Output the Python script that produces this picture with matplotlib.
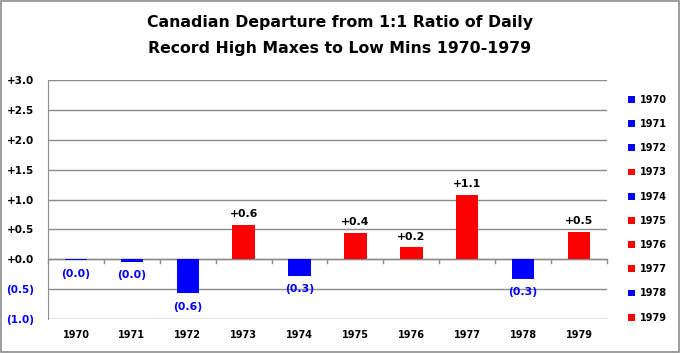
import matplotlib
matplotlib.use('Agg')
import matplotlib.pyplot as plt
from matplotlib.patches import Rectangle

years = ['1970', '1971', '1972', '1973', '1974', '1975', '1976', '1977', '1978', '1979']
values = [-0.02, -0.04, -0.57, 0.58, -0.28, 0.44, 0.2, 1.08, -0.33, 0.46]
labels = ['(0.0)', '(0.0)', '(0.6)', '+0.6', '(0.3)', '+0.4', '+0.2', '+1.1', '(0.3)', '+0.5']
yticks = [-1.0, -0.5, 0.0, 0.5, 1.0, 1.5, 2.0, 2.5, 3.0]
ytick_labels = ['(1.0)', '(0.5)', '+0.0', '+0.5', '+1.0', '+1.5', '+2.0', '+2.5', '+3.0']

plt.rcParams['font.family'] = 'DejaVu Sans'

fig = plt.figure(figsize=(6.8, 3.53), dpi=100)
ax = fig.add_axes([0.0706, 0.0963, 0.822, 0.677])

for i, (yr, v) in enumerate(zip(years, values)):
    color = '#ff0000' if v > 0 else '#0000ff'
    ax.bar(i, v, width=0.4, color=color, label=yr, zorder=3)
    if v > 0:
        ax.annotate(labels[i], (i, v), xytext=(0, 4), textcoords='offset points',
                    ha='center', va='bottom', fontsize=7.8, fontweight='bold', color='black')
    else:
        ax.annotate(labels[i], (i, v), xytext=(0, -6), textcoords='offset points',
                    ha='center', va='top', fontsize=7.8, fontweight='bold', color='#0000ff')

ax.set_xlim(-0.5, len(years) - 0.5)
ax.set_ylim(-1.0, 3.0)
ax.set_yticks(yticks)
ax.set_yticklabels(ytick_labels, fontsize=7.5, fontweight='bold')
for t, v in zip(ax.get_yticklabels(), yticks):
    t.set_color('#0000ff' if v < 0 else 'black')
ax.tick_params(axis='y', length=0, pad=10)
ax.set_xticks(range(len(years)))
ax.set_xticklabels(years, fontsize=7, fontweight='bold')
ax.tick_params(axis='x', length=0, pad=8)

ax.yaxis.grid(True, color='#8c8c8c', linewidth=1, zorder=0)
for s in ['top', 'right', 'bottom']:
    ax.spines[s].set_visible(False)
ax.spines['left'].set_color('#8c8c8c')
ax.axhline(0, color='#8c8c8c', linewidth=1, zorder=2)
for b in range(len(years) + 1):
    ax.plot([b - 0.5, b - 0.5], [0, -0.07], color='#8c8c8c', linewidth=1, zorder=2, clip_on=False)

fig.text(0.5, 0.935, 'Canadian Departure from 1:1 Ratio of Daily', ha='center', va='center',
         fontsize=11.3, fontweight='bold')
fig.text(0.5, 0.862, 'Record High Maxes to Low Mins 1970-1979', ha='center', va='center',
         fontsize=11.3, fontweight='bold')

leg = ax.legend(loc='upper left', bbox_to_anchor=(0.911, 0.756), bbox_transform=fig.transFigure,
                frameon=False, prop={'weight': 'bold', 'size': 7},
                handlelength=0.7, handleheight=0.7, handletextpad=0.5, labelspacing=1.46)

fig.patches.append(Rectangle((0.0015, 0.003), 0.997, 0.994, transform=fig.transFigure,
                             fill=False, edgecolor='#8c8c8c', linewidth=1.2))

fig.savefig('out.png', dpi=100)
